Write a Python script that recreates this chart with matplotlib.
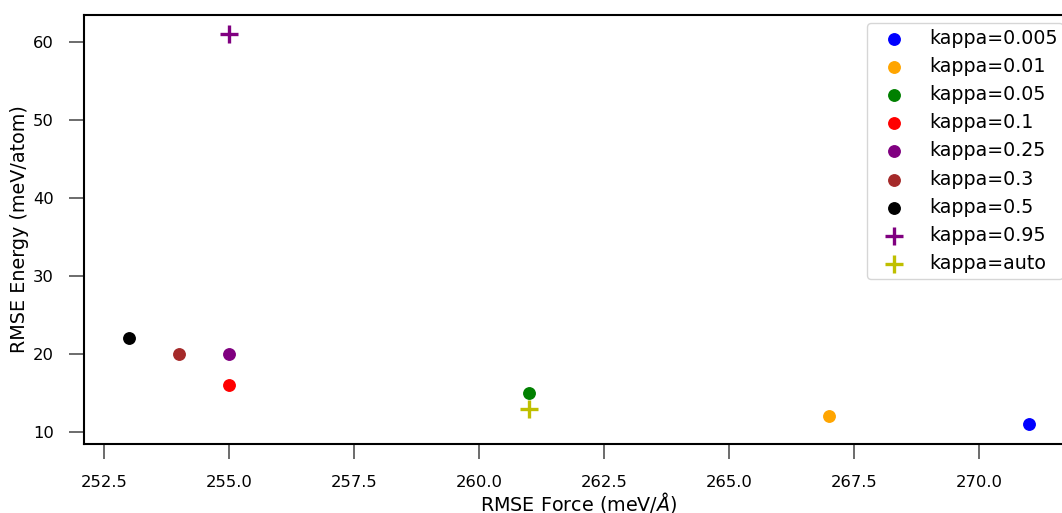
import matplotlib
matplotlib.use("Agg")
import matplotlib.pyplot as plt

labels = ["kappa=0.005", "kappa=0.01", "kappa=0.05", "kappa=0.1", "kappa=0.25",
          "kappa=0.3", "kappa=0.5", "kappa=0.95", "kappa=auto"]
force = [271, 267, 261, 255, 255, 254, 253, 255, 261]
energy = [11, 12, 15, 16, 20, 20, 22, 61, 13]
colors = ["blue", "orange", "green", "red", "purple", "brown", "black", "purple", "y"]
markers = ["o", "o", "o", "o", "o", "o", "o", "+", "+"]

fig = plt.figure(figsize=(10.62, 5.13), dpi=100)
ax = fig.add_axes([0.0791, 0.135, 0.932, 0.836])

for x, y, c, m, lab in zip(force, energy, colors, markers, labels):
    if m == "+":
        ax.scatter([x], [y], c=c, marker=m, s=160, linewidths=2.4, label=lab)
    else:
        ax.scatter([x], [y], c=c, marker=m, s=68, label=lab)

ax.set_xlabel(r"RMSE Force (meV/$\AA$)", fontsize=13.8)
ax.set_ylabel("RMSE Energy (meV/atom)", fontsize=13.8)
ax.xaxis.set_label_coords(0.5, -0.1545)
ax.xaxis.label.set_verticalalignment("baseline")
ax.yaxis.set_label_coords(-0.0601, 0.5)
ax.yaxis.label.set_verticalalignment("baseline")
ax.yaxis.label.set_rotation_mode("anchor")
ax.tick_params(axis="both", labelsize=11.8, length=10.8, width=1.1, color="#444444")
ax.tick_params(axis="y", pad=11)
ax.tick_params(axis="x", pad=12)
for s in ax.spines.values():
    s.set_linewidth(1.5)
ax.legend(loc="upper right", fontsize=13.7, labelspacing=0.48, handletextpad=0.75,
          handlelength=2.2, borderpad=0.3, borderaxespad=0,
          bbox_to_anchor=(0.9894, 0.9807))

fig.savefig("out.png", dpi=100)
